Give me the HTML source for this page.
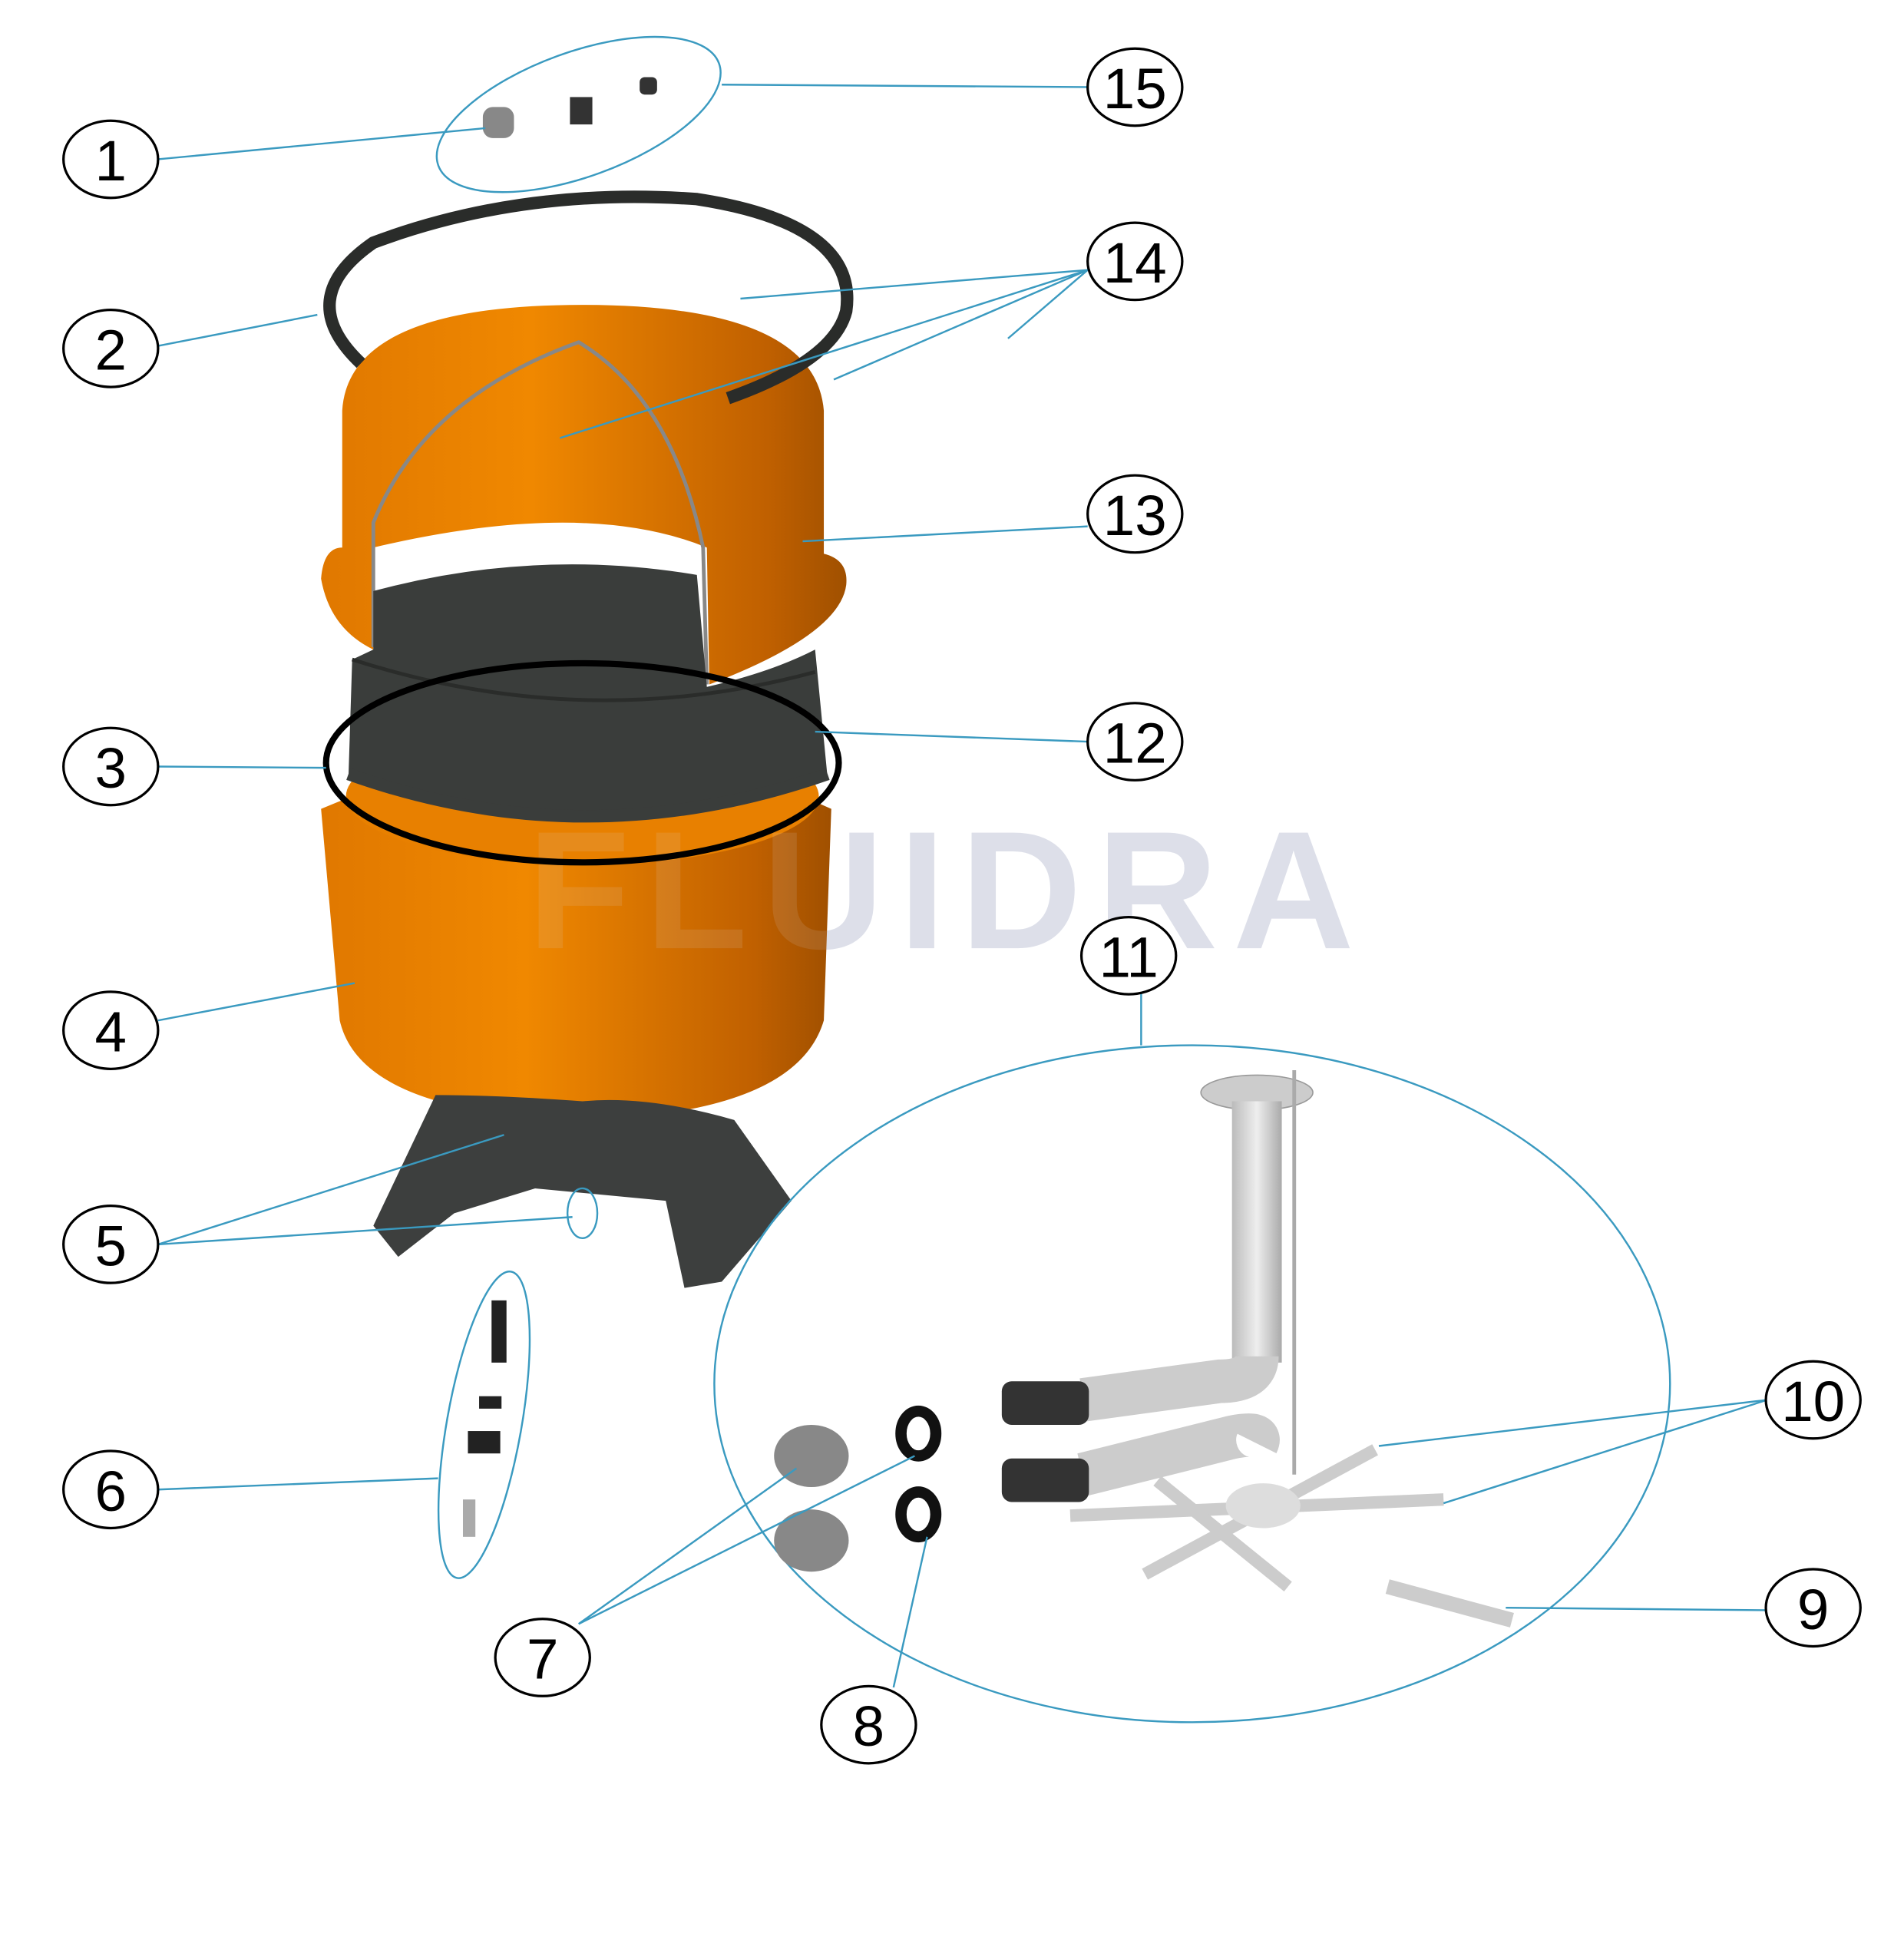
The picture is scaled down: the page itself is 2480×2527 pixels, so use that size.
<!DOCTYPE html>
<html><head><meta charset="utf-8"><style>html,body{margin:0;padding:0;background:#fff}svg{display:block}</style></head><body>
<svg width="2480" height="2527" viewBox="0 0 1530 1559" xmlns="http://www.w3.org/2000/svg" font-family="Liberation Sans, sans-serif">
<rect width="1530" height="1559" fill="#fff"/>
<defs>
<linearGradient id="or" x1="0" x2="1"><stop offset="0" stop-color="#e07800"/><stop offset="0.4" stop-color="#f08800"/><stop offset="0.85" stop-color="#c06000"/><stop offset="1" stop-color="#a05000"/></linearGradient>
<linearGradient id="gr" x1="0" x2="1"><stop offset="0" stop-color="#bbb"/><stop offset="0.5" stop-color="#eee"/><stop offset="1" stop-color="#aaa"/></linearGradient>
</defs>
<!-- watermark -->
<text x="762" y="762" font-size="135" font-weight="bold" fill="#dde0ea" text-anchor="middle" letter-spacing="12">FLUIDRA</text>
<!-- 4 body -->
<path d="M258,650 Q470,560 668,650 L662,820 Q640,895 468,900 Q290,895 273,820 Z" fill="url(#or)"/>
<ellipse cx="468" cy="640" rx="190" ry="55" fill="#e88000"/>
<text x="762" y="762" font-size="135" font-weight="bold" fill="#dde0ea" fill-opacity="0.12" text-anchor="middle" letter-spacing="12">FLUIDRA</text>
<!-- 13 dome -->
<path d="M258,465 Q260,440 275,440 L275,330 Q280,245 468,245 Q655,245 662,330 L662,445 Q682,450 680,470 Q675,510 570,550 L568,440 Q470,400 300,440 L300,522 Q265,505 258,465 Z" fill="url(#or)"/>
<path d="M300,520 L300,420 Q340,320 465,275 Q540,320 565,440 L568,550" fill="none" stroke="#888" stroke-width="3"/>
<!-- 12 band -->
<path d="M300,475 Q430,440 560,462 L568,552 Q620,540 655,522 L665,625 Q470,690 280,625 L283,530 L300,522 Z" fill="#3a3d3b"/>
<path d="M283,530 Q470,590 655,540" fill="none" stroke="#2a2c2a" stroke-width="3"/>
<path d="M280,622 Q470,690 665,622" fill="none" stroke="#3a3d3b" stroke-width="10"/>
<!-- 3 ring -->
<ellipse cx="468" cy="613" rx="206" ry="80" fill="none" stroke="#000" stroke-width="5"/>
<!-- 5 base -->
<path d="M350,880 L300,985 L320,1010 L365,975 L430,955 L535,965 L550,1035 L580,1030 L636,965 L590,900 Q520,880 468,885 Q400,880 350,880 Z" fill="#3d3f3e"/>
<ellipse cx="468" cy="975" rx="12" ry="20" fill="none" stroke="#3a9ac0" stroke-width="1.5"/>
<!-- 2 clamp -->
<path d="M290,292 Q235,240 300,195 Q420,150 560,160 Q690,180 680,250 Q670,290 585,320" fill="none" stroke="#2a2c2a" stroke-width="10"/>
<!-- 15 small parts -->
<ellipse cx="465" cy="92" rx="120" ry="50" transform="rotate(-20 465 92)" fill="none" stroke="#3a9ac0" stroke-width="1.5"/>
<rect x="388" y="86" width="25" height="25" rx="8" fill="#888"/>
<rect x="458" y="78" width="18" height="22" fill="#333"/><rect x="514" y="62" width="14" height="14" rx="4" fill="#333"/>
<!-- 11 group -->
<ellipse cx="958" cy="1112" rx="384" ry="272" fill="none" stroke="#3a9ac0" stroke-width="1.5"/>
<ellipse cx="1010" cy="878" rx="45" ry="14" fill="#ccc" stroke="#999"/>
<rect x="990" y="885" width="40" height="210" fill="url(#gr)"/>
<path d="M1010,1090 Q1010,1110 980,1110 L870,1125" fill="none" stroke="#ccc" stroke-width="35"/>
<path d="M1010,1160 Q1015,1150 990,1155 L870,1185" fill="none" stroke="#ccc" stroke-width="35"/>
<rect x="805" y="1110" width="70" height="35" rx="8" fill="#333"/><rect x="805" y="1172" width="70" height="35" rx="8" fill="#333"/>
<line x1="1040" y1="860" x2="1040" y2="1185" stroke="#aaa" stroke-width="3"/>
<g stroke="#ccc" stroke-width="10"><line x1="860" y1="1218" x2="1160" y2="1205"/><line x1="920" y1="1265" x2="1105" y2="1165"/><line x1="930" y1="1190" x2="1035" y2="1275"/></g>
<ellipse cx="1015" cy="1210" rx="30" ry="18" fill="#ddd"/>
<line x1="1115" y1="1275" x2="1215" y2="1302" stroke="#ccc" stroke-width="12"/>
<ellipse cx="652" cy="1170" rx="30" ry="25" fill="#888"/><ellipse cx="652" cy="1238" rx="30" ry="25" fill="#888"/>
<ellipse cx="738" cy="1152" rx="14" ry="18" fill="none" stroke="#111" stroke-width="9"/><ellipse cx="738" cy="1217" rx="14" ry="18" fill="none" stroke="#111" stroke-width="9"/>
<!-- 6 -->
<ellipse cx="389" cy="1145" rx="30" ry="125" transform="rotate(10 389 1145)" fill="none" stroke="#3a9ac0" stroke-width="1.5"/>
<rect x="395" y="1045" width="12" height="50" fill="#222"/><rect x="385" y="1122" width="18" height="10" fill="#222"/><rect x="376" y="1150" width="26" height="18" fill="#222"/>
<rect x="372" y="1205" width="10" height="30" fill="#aaa"/>
<!-- leaders -->
<g stroke="#3a9ac0" stroke-width="1.5" fill="none">
<line x1="127" y1="128" x2="390" y2="103"/>
<line x1="580" y1="68" x2="874" y2="70"/>
<line x1="127" y1="278" x2="255" y2="253"/>
<line x1="874" y1="217" x2="595" y2="240"/><line x1="874" y1="217" x2="450" y2="352"/><line x1="874" y1="217" x2="670" y2="305"/><line x1="874" y1="217" x2="810" y2="272"/>
<line x1="645" y1="435" x2="874" y2="423"/>
<line x1="655" y1="588" x2="874" y2="596"/>
<line x1="127" y1="616" x2="262" y2="617"/>
<line x1="127" y1="820" x2="285" y2="790"/>
<line x1="917" y1="798" x2="917" y2="840"/>
<line x1="127" y1="1000" x2="405" y2="912"/><line x1="127" y1="1000" x2="460" y2="978"/>
<line x1="127" y1="1197" x2="352" y2="1188"/>
<line x1="1420" y1="1125" x2="1108" y2="1162"/><line x1="1420" y1="1125" x2="1160" y2="1208"/>
<line x1="1420" y1="1294" x2="1210" y2="1292"/>
<line x1="465" y1="1305" x2="640" y2="1180"/><line x1="465" y1="1305" x2="735" y2="1170"/>
<line x1="718" y1="1356" x2="745" y2="1235"/>
</g>
<!-- labels -->
<g fill="#fff" stroke="#000" stroke-width="2">
<ellipse cx="89" cy="128" rx="38" ry="31"/><ellipse cx="912" cy="70" rx="38" ry="31"/><ellipse cx="912" cy="210" rx="38" ry="31"/>
<ellipse cx="89" cy="280" rx="38" ry="31"/><ellipse cx="912" cy="413" rx="38" ry="31"/><ellipse cx="912" cy="596" rx="38" ry="31"/>
<ellipse cx="89" cy="616" rx="38" ry="31"/><ellipse cx="89" cy="828" rx="38" ry="31"/><ellipse cx="907" cy="768" rx="38" ry="31"/>
<ellipse cx="89" cy="1000" rx="38" ry="31"/><ellipse cx="1457" cy="1125" rx="38" ry="31"/><ellipse cx="89" cy="1197" rx="38" ry="31"/>
<ellipse cx="1457" cy="1292" rx="38" ry="31"/><ellipse cx="436" cy="1332" rx="38" ry="31"/><ellipse cx="698" cy="1386" rx="38" ry="31"/>
</g>
<g font-size="46" text-anchor="middle" fill="#000">
<text x="89" y="145">1</text><text x="912" y="87">15</text><text x="912" y="227">14</text>
<text x="89" y="297">2</text><text x="912" y="430">13</text><text x="912" y="613">12</text>
<text x="89" y="633">3</text><text x="89" y="845">4</text><text x="907" y="785">11</text>
<text x="89" y="1017">5</text><text x="1457" y="1142">10</text><text x="89" y="1214">6</text>
<text x="1457" y="1309">9</text><text x="436" y="1349">7</text><text x="698" y="1403">8</text>
</g>
</svg>
</body></html>
